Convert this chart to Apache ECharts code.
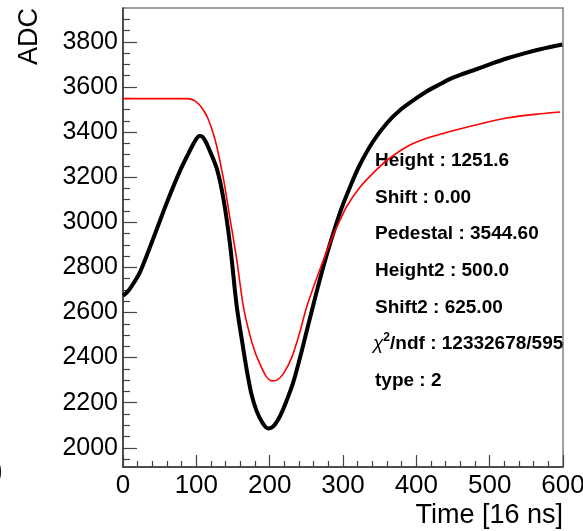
<!DOCTYPE html>
<html>
<head>
<meta charset="utf-8">
<script src="https://cdn.jsdelivr.net/npm/echarts@6/dist/echarts.min.js"></script>
<style>
html,body{margin:0;padding:0;background:#fff;}
#chart{width:583px;height:531px;}
</style>
</head>
<body>
<div id="chart"></div>
<script>
// ---- data ----
var blackX = [0, 5, 10, 23, 41, 60, 78, 90, 96, 100, 104, 108, 112, 116, 128, 137, 146, 155, 164, 169, 175, 182, 190, 198, 205, 214, 222, 232, 241, 250, 260, 270, 280, 296, 310, 323, 341, 360, 378, 400, 414, 432, 446, 460, 478, 500, 523, 546, 569, 599];
var blackY = [2674, 2688, 2708, 2778, 2926, 3089, 3230, 3310, 3348, 3370, 3383, 3380, 3362, 3335, 3237, 3104, 2900, 2630, 2440, 2340, 2240, 2165, 2112, 2086, 2095, 2140, 2200, 2289, 2395, 2511, 2640, 2765, 2880, 3044, 3160, 3255, 3358, 3440, 3498, 3550, 3580, 3612, 3636, 3654, 3674, 3700, 3726, 3748, 3767, 3788];
var redX = [0, 50, 85, 91, 98, 105, 111, 116, 122, 128, 137, 146, 155, 164, 172, 180, 187, 195, 203, 210, 219, 230, 241, 250, 260, 269, 280, 287, 296, 305, 323, 341, 360, 387, 414, 446, 478, 523, 569, 596];
var redY = [3548, 3548, 3548, 3547, 3538, 3518, 3490, 3459, 3405, 3335, 3192, 3015, 2837, 2629, 2512, 2425, 2370, 2318, 2297, 2300, 2330, 2400, 2511, 2620, 2715, 2795, 2890, 2945, 3010, 3070, 3155, 3218, 3275, 3335, 3372, 3402, 3429, 3462, 3481, 3489];
var yMajorTicks = [2000, 2200, 2400, 2600, 2800, 3000, 3200, 3400, 3600, 3800];
var yMinorTicks = [1950, 2050, 2100, 2150, 2250, 2300, 2350, 2450, 2500, 2550, 2650, 2700, 2750, 2850, 2900, 2950, 3050, 3100, 3150, 3250, 3300, 3350, 3450, 3500, 3550, 3650, 3700, 3750, 3850, 3900];
var statsLines = ['Height : 1251.6', 'Shift : 0.00', 'Pedestal : 3544.60', 'Height2 : 500.0', 'Shift2 : 625.00', 'CHI', 'type : 2'];
var chiValue = '/ndf : 12332678/595';
var xTitle = 'Time [16 ns]';
var yTitle = 'ADC';

var FONT = '"Liberation Sans", Arial, Helvetica, sans-serif';

function pairs(xs, ys) { return xs.map(function (x, i) { return [x, ys[i]]; }); }

var graphics = [
  { type: 'text', x: 30, y: 8, rotation: Math.PI / 2,
    style: { text: yTitle, font: '27px ' + FONT, fill: '#000', align: 'right', verticalAlign: 'middle' } },
  { type: 'text', x: 563, y: 516,
    style: { text: xTitle, font: '27px ' + FONT, fill: '#000', align: 'right', verticalAlign: 'middle' } },
  { type: 'text', x: -17, y: 474,
    style: { text: '0', font: '35px ' + FONT, fill: '#0b1a3c', align: 'left', verticalAlign: 'middle' } }
];
statsLines.forEach(function (t, i) {
  var yy = 161 + i * 36.6;
  if (t === 'CHI') {
    graphics.push({ type: 'text', x: 373, y: yy,
      style: {
        text: '{c|χ}{s|2}{b|' + chiValue + '}',
        verticalAlign: 'middle', align: 'left',
        rich: {
          c: { fontFamily: FONT, fontSize: 19, fontStyle: 'italic', color: '#000' },
          s: { fontFamily: FONT, fontSize: 12, fontWeight: 'bold', color: '#000', padding: [0, 0, 12, 0] },
          b: { fontFamily: FONT, fontSize: 19, fontWeight: 'bold', color: '#000' }
        }
      } });
  } else {
    graphics.push({ type: 'text', x: 375, y: yy,
      style: { text: t, font: 'bold 19px ' + FONT, fill: '#000', align: 'left', verticalAlign: 'middle' } });
  }
});

var chart = echarts.init(document.getElementById('chart'), null, { renderer: 'canvas' });
chart.setOption({
  animation: false,
  backgroundColor: '#fff',
  grid: { left: 123, right: 20, top: 8, bottom: 64, show: true, borderColor: '#808080', borderWidth: 1.5,
          containLabel: false, outerBoundsMode: 'none' },
  xAxis: {
    type: 'value', min: 0, max: 600, interval: 100,
    axisLine: { show: true, lineStyle: { color: '#333', width: 1.5 } },
    axisTick: { show: true, inside: true, length: 12, lineStyle: { color: '#444', width: 1.2 } },
    minorTick: { show: true, splitNumber: 5, length: 6, lineStyle: { color: '#444', width: 1.2 } },
    splitLine: { show: false },
    axisLabel: { show: true, margin: 6, fontFamily: FONT, fontSize: 26, color: '#000', showMinLabel: true, showMaxLabel: true, hideOverlap: false }
  },
  yAxis: [{
    type: 'value', min: 1915, max: 3950,
    axisLine: { show: true, lineStyle: { color: '#333', width: 1.5 } },
    axisTick: { show: true, inside: true, length: 14, customValues: yMajorTicks, lineStyle: { color: '#444', width: 1.2 } },
    splitLine: { show: false },
    axisLabel: { show: true, margin: 5, fontFamily: FONT, fontSize: 25, color: '#000', customValues: yMajorTicks,
                 formatter: function (v) { return String(Math.round(v)); } }
  }, {
    type: 'value', min: 1915, max: 3950, position: 'left', offset: 0,
    axisLine: { show: false },
    axisTick: { show: true, inside: true, length: 7, customValues: yMinorTicks, lineStyle: { color: '#444', width: 1.2 } },
    splitLine: { show: false },
    axisLabel: { show: false }
  }],
  series: [
    { type: 'line', name: 'data', data: pairs(blackX, blackY), yAxisIndex: 0, showSymbol: false, symbol: 'none',
      smooth: 0.3, lineStyle: { color: '#000', width: 4 }, z: 3 },
    { type: 'line', name: 'fit', data: pairs(redX, redY), yAxisIndex: 0, showSymbol: false, symbol: 'none',
      smooth: 0.3, lineStyle: { color: '#ff0000', width: 1.6 }, z: 4 }
  ],
  graphic: graphics
});
</script>
</body>
</html>
